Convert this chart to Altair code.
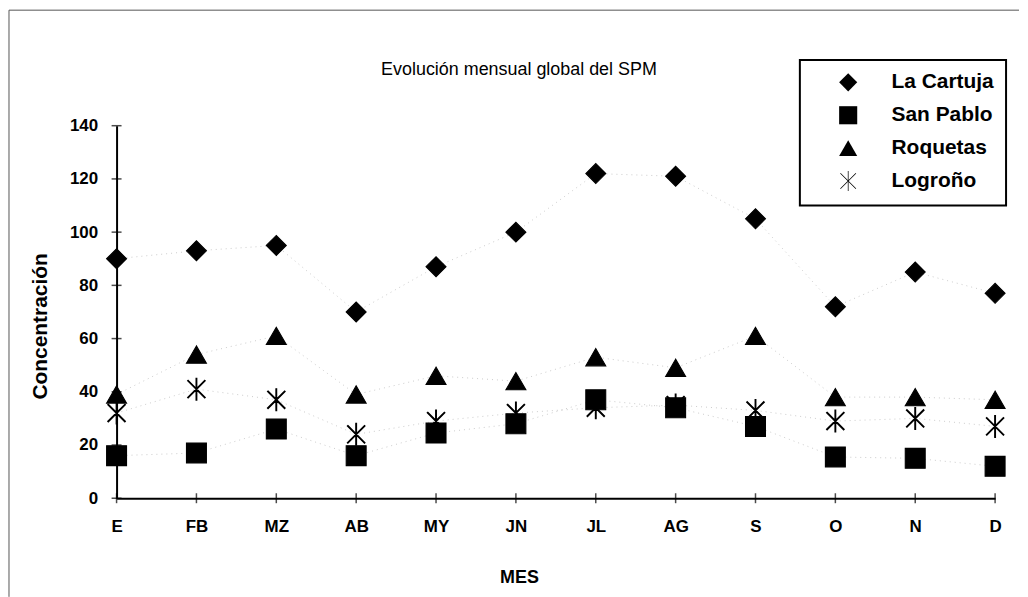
import altair as alt
import pandas as pd

# ---- data ----
months = ["E", "FB", "MZ", "AB", "MY", "JN", "JL", "AG", "S", "O", "N", "D"]
series_names = ["La Cartuja", "San Pablo", "Roquetas", "Logroño"]
la_cartuja = [90, 93, 95, 70, 87, 100, 122, 121, 105, 72, 85, 77]
san_pablo = [16, 17, 26, 16, 24.5, 28, 37, 34, 27, 15.5, 15, 12]
roquetas = [39, 54, 61, 39, 46, 44, 53, 49, 61, 38, 38, 37]
logrono = [32, 41, 37, 24, 29, 32, 34, 35, 33, 29, 30, 27]
y_ticks = [0, 20, 40, 60, 80, 100, 120, 140]

rows = []
for name, vals in zip(series_names, [la_cartuja, san_pablo, roquetas, logrono]):
    for m, v in zip(months, vals):
        rows.append({"mes": m, "serie": name, "valor": v})
df = pd.DataFrame(rows)
df_xt = pd.DataFrame({"mes": months})
df_yt = pd.DataFrame({"valor": y_ticks})

W, H = 882, 374
FONT = "Liberation Sans"

# asterisk as three thin closed bars (so it shows both filled and stroked)
asterisk = (
    "M-0.04,-1.1L0.04,-1.1L0.04,1.1L-0.04,1.1Z"
    "M-0.83,-0.89L0.89,0.83L0.83,0.89L-0.89,-0.83Z"
    "M0.83,-0.89L0.89,-0.83L-0.83,0.89L-0.89,0.83Z"
)
shapes = ["diamond", "square", "triangle-up", asterisk]

x_enc = alt.X(
    "mes:N", sort=months,
    scale=alt.Scale(type="point", padding=0),
    axis=alt.Axis(
        title="MES", labelAngle=0, ticks=False, grid=False,
        domainColor="black", domainWidth=2,
        labelFont=FONT, labelFontSize=17, labelFontWeight="bold", labelColor="black",
        labelPadding=20,
        titleFont=FONT, titleFontSize=18, titleFontWeight="bold", titleColor="black",
        titleX=404, titleY=80, titleBaseline="middle", titleAlign="center",
    ),
)
y_enc = alt.Y(
    "valor:Q",
    scale=alt.Scale(domain=[0, 140], nice=False, zero=True),
    axis=alt.Axis(
        title="Concentración", values=y_ticks, ticks=False, grid=False,
        domainColor="black", domainWidth=2,
        labelFont=FONT, labelFontSize=17, labelFontWeight="bold", labelColor="black",
        labelPadding=19,
        titleFont=FONT, titleFontSize=21, titleFontWeight="bold", titleColor="black",
        titleX=-76, titleY=201, titleAngle=270, titleBaseline="middle", titleAlign="center",
    ),
)

lines = alt.Chart(df).mark_line(
    strokeDash=[1, 4], color="#a0a0a0", strokeWidth=1, opacity=0.55
).encode(x=x_enc, y=y_enc, detail="serie:N")

points = alt.Chart(df).mark_point(
    filled=False, fill="black", size=400, opacity=1, color="black",
    stroke="black", strokeWidth=1.1, fillOpacity=1, strokeOpacity=1,
).encode(
    x=x_enc, y=y_enc,
    shape=alt.Shape(
        "serie:N",
        scale=alt.Scale(domain=series_names, range=shapes),
        legend=alt.Legend(
            title=None, orient="none", legendX=686, legendY=-66,
            labelFont=FONT, labelFontSize=21, labelFontWeight="bold", labelColor="black",
            symbolSize=330, symbolFillColor="black", symbolStrokeColor="black",
            symbolStrokeWidth=1.1, symbolOpacity=1, symbolOffset=26, labelOffset=33,
            rowPadding=10, padding=12, strokeColor="black", fillColor="white",
        ),
    ),
)

ytick = alt.Chart(df_yt).mark_tick(
    orient="horizontal", size=10, thickness=1.5, color="black"
).encode(y=y_enc, x=alt.value(0))

xtick = alt.Chart(df_xt).mark_tick(
    orient="vertical", size=10, thickness=1.5, color="black"
).encode(x=x_enc, y=alt.value(H))

one = pd.DataFrame({"a": [0]})
frame_top = alt.Chart(one).mark_rule(color="#555555", strokeWidth=1).encode(
    x=alt.value(-108), x2=alt.value(906), y=alt.value(-116)
)
frame_left = alt.Chart(one).mark_rule(color="#555555", strokeWidth=1).encode(
    x=alt.value(-108), y=alt.value(-116), y2=alt.value(473)
)

chart = alt.layer(
    frame_top, frame_left, lines, ytick, xtick, points
).properties(
    width=W, height=H, padding=0,
    title=alt.Title(
        "Evolución mensual global del SPM", font=FONT, fontSize=18,
        fontWeight="normal", color="black", anchor="middle", dx=-37, offset=0, dy=70,
    ),
).configure_view(strokeWidth=0).configure_legend(strokeWidth=2)

chart.save("out.html", embed_options={"renderer": "svg", "actions": False})
